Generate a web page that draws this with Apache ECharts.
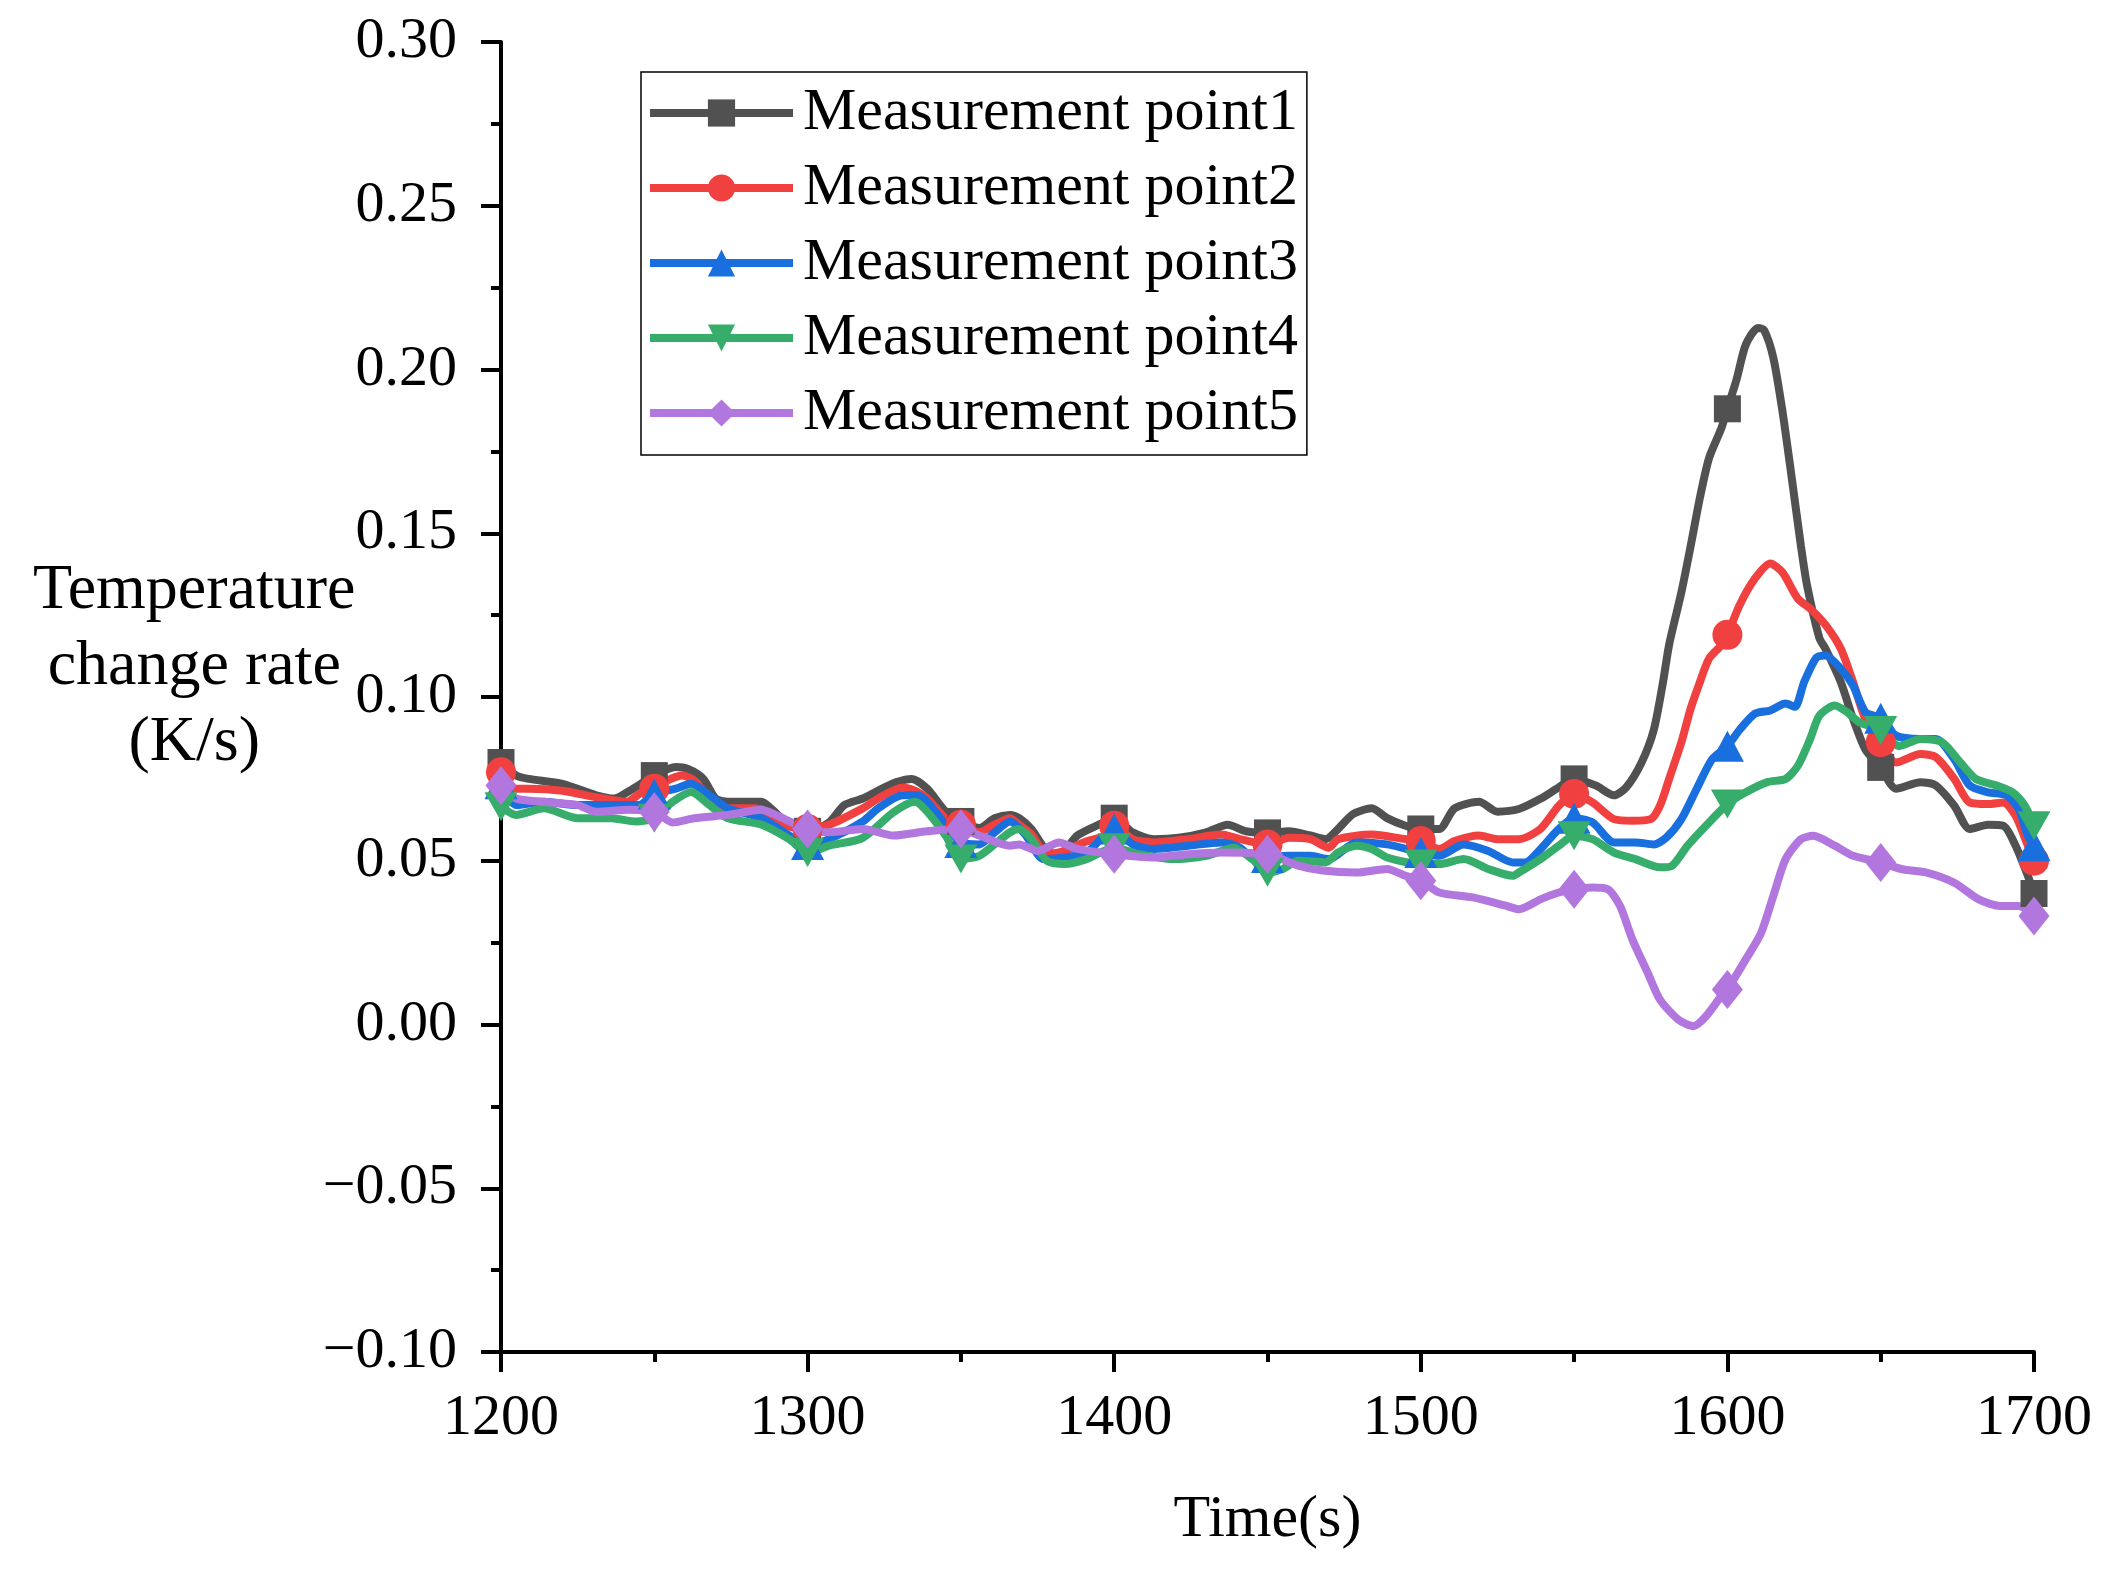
<!DOCTYPE html>
<html lang="en">
<head>
  <meta charset="UTF-8">
  <title>Temperature change rate</title>
  <script src="https://cdn.jsdelivr.net/npm/echarts@6/dist/echarts.min.js"></script>
  <style>
    * { margin: 0; padding: 0; box-sizing: border-box; }
    body { background: #fff; }
    #chart { width: 2117px; height: 1574px; }
  </style>
</head>
<body>
<div id="chart"></div>
<script>
// series names
const names = ['Measurement point1', 'Measurement point2', 'Measurement point3', 'Measurement point4', 'Measurement point5'];
const yTitle = 'Temperature\nchange rate\n(K/s)';

// point 1
const t1 = [1200,1205,1209,1220,1231,1237,1242,1250,1257,1261,1266,1270,1274,1285,1288,1294,1300,1307,1312,1318,1323,1329,1334,1339,1345,1350,1356,1361,1366,1369,1373,1378,1382,1388,1395,1400,1406,1413,1421,1430,1437,1443,1450,1457,1464,1469,1473,1478,1484,1489,1495,1500,1506,1511,1519,1525,1532,1539,1545,1550,1557,1563,1567,1572,1576,1579,1581,1585,1588,1591,1594,1598,1600,1603,1606,1610,1612,1615,1618,1621,1624,1626,1630,1632,1637,1641,1645,1650,1655,1663,1668,1674,1679,1685,1690,1694,1698,1700];
const v1 = [0.080,0.076,0.075,0.0735,0.070,0.069,0.0714,0.076,0.0786,0.078,0.075,0.069,0.068,0.068,0.066,0.061,0.059,0.0617,0.067,0.069,0.0714,0.074,0.075,0.072,0.065,0.062,0.060,0.063,0.064,0.063,0.0597,0.053,0.052,0.0577,0.061,0.063,0.0587,0.0566,0.057,0.0587,0.061,0.059,0.0585,0.059,0.0577,0.0566,0.0597,0.0643,0.066,0.063,0.0607,0.0597,0.0597,0.066,0.068,0.065,0.0658,0.0689,0.0724,0.075,0.073,0.070,0.0724,0.080,0.090,0.1045,0.116,0.132,0.146,0.1607,0.1729,0.182,0.188,0.197,0.2076,0.2127,0.212,0.2035,0.187,0.1668,0.146,0.134,0.118,0.1147,0.1045,0.0933,0.084,0.0785,0.072,0.074,0.073,0.0668,0.0597,0.061,0.0607,0.0546,0.0454,0.040];

// point 2
const t2 = [1200,1205,1209,1220,1231,1241,1246,1250,1252,1259,1263,1269,1274,1283,1292,1300,1307,1318,1323,1331,1335,1339,1345,1350,1356,1361,1366,1369,1373,1378,1384,1390,1397,1400,1406,1413,1424,1435,1441,1450,1457,1464,1470,1473,1484,1495,1500,1506,1511,1519,1525,1532,1539,1545,1550,1556,1563,1569,1575,1578,1581,1585,1588,1591,1594,1598,1600,1604,1609,1614,1618,1623,1627,1632,1637,1641,1645,1650,1655,1663,1668,1674,1679,1685,1690,1694,1698,1700];
const v2 = [0.077,0.072,0.072,0.0714,0.0694,0.068,0.071,0.072,0.0735,0.076,0.0745,0.068,0.066,0.066,0.061,0.0597,0.061,0.066,0.069,0.0724,0.0714,0.069,0.063,0.061,0.0587,0.061,0.063,0.061,0.058,0.052,0.053,0.0556,0.0577,0.0607,0.0566,0.0556,0.0566,0.058,0.0566,0.055,0.057,0.0566,0.054,0.0566,0.058,0.0566,0.056,0.0536,0.056,0.0577,0.0566,0.0566,0.0597,0.0668,0.0704,0.0678,0.0627,0.0622,0.0627,0.0668,0.075,0.0862,0.0964,0.1045,0.1117,0.1158,0.119,0.1281,0.1362,0.1408,0.138,0.130,0.127,0.122,0.1147,0.1045,0.0933,0.0862,0.080,0.0826,0.0816,0.075,0.0678,0.0673,0.0678,0.0637,0.0546,0.050];

// point 3
const t3 = [1200,1205,1214,1225,1236,1245,1250,1257,1262,1268,1274,1285,1294,1300,1307,1318,1323,1331,1336,1339,1345,1350,1356,1361,1366,1371,1377,1384,1391,1400,1406,1413,1424,1435,1441,1447,1450,1457,1464,1470,1479,1489,1500,1506,1514,1522,1530,1534,1539,1545,1550,1556,1563,1570,1576,1580,1585,1590,1595,1600,1604,1609,1614,1619,1622,1625,1629,1632,1637,1641,1645,1650,1655,1663,1668,1674,1679,1685,1691,1695,1698,1700];
const v3 = [0.0735,0.067,0.068,0.067,0.067,0.067,0.0704,0.072,0.0735,0.070,0.066,0.063,0.0577,0.055,0.0566,0.062,0.066,0.070,0.070,0.068,0.061,0.0556,0.055,0.0587,0.062,0.058,0.0505,0.051,0.0525,0.0597,0.055,0.0536,0.0546,0.0556,0.054,0.0495,0.051,0.0515,0.0515,0.0505,0.0556,0.055,0.0525,0.0515,0.055,0.053,0.0495,0.0495,0.0535,0.0597,0.063,0.0617,0.0556,0.0556,0.055,0.057,0.0627,0.072,0.081,0.085,0.090,0.0949,0.0959,0.098,0.097,0.1045,0.112,0.1127,0.1086,0.1035,0.0954,0.0935,0.0882,0.0872,0.0872,0.081,0.073,0.0709,0.070,0.0658,0.0576,0.0546];

// point 4
const t4 = [1200,1205,1214,1225,1236,1244,1250,1256,1262,1268,1274,1285,1294,1300,1307,1318,1328,1335,1339,1345,1350,1356,1361,1366,1369,1373,1378,1384,1391,1400,1408,1419,1430,1439,1445,1450,1455,1460,1469,1473,1479,1484,1489,1500,1506,1514,1522,1530,1532,1539,1545,1550,1556,1563,1570,1578,1582,1587,1593,1600,1606,1613,1619,1623,1627,1630,1635,1639,1643,1650,1656,1663,1670,1676,1681,1688,1693,1697,1700];
const v4 = [0.0665,0.064,0.066,0.063,0.063,0.062,0.063,0.068,0.071,0.067,0.063,0.061,0.0566,0.0525,0.0546,0.057,0.0648,0.068,0.065,0.0577,0.0505,0.0515,0.055,0.0587,0.0597,0.0566,0.050,0.049,0.0505,0.054,0.052,0.0505,0.0515,0.054,0.0505,0.0465,0.0475,0.050,0.0495,0.0525,0.0546,0.0536,0.051,0.049,0.049,0.0505,0.0475,0.0454,0.0464,0.0505,0.0546,0.0576,0.0566,0.0525,0.0505,0.048,0.0485,0.0546,0.0607,0.0673,0.0709,0.074,0.075,0.079,0.0872,0.0943,0.0974,0.0954,0.0923,0.0898,0.085,0.0872,0.0862,0.080,0.075,0.0729,0.0709,0.0668,0.0607];

// point 5
const t5 = [1200,1205,1214,1225,1231,1242,1250,1256,1263,1274,1285,1290,1300,1307,1318,1328,1339,1350,1356,1366,1369,1375,1382,1388,1400,1413,1424,1435,1450,1460,1468,1479,1489,1495,1500,1506,1517,1528,1532,1539,1545,1550,1556,1561,1565,1569,1574,1578,1584,1589,1593,1598,1600,1606,1611,1615,1619,1624,1628,1635,1641,1650,1657,1665,1674,1682,1689,1695,1700];
const v5 = [0.073,0.069,0.068,0.067,0.065,0.0656,0.065,0.0617,0.063,0.064,0.0656,0.0638,0.0597,0.0587,0.0597,0.0577,0.059,0.0597,0.0577,0.0546,0.055,0.053,0.0556,0.0536,0.052,0.051,0.052,0.0525,0.052,0.0485,0.047,0.0464,0.0475,0.0454,0.0439,0.0403,0.0388,0.0362,0.0352,0.0382,0.0403,0.0413,0.0418,0.0413,0.0362,0.026,0.0158,0.0076,0.0015,-0.0005,0.0025,0.0087,0.0107,0.0199,0.028,0.0393,0.0505,0.0566,0.0576,0.0546,0.0515,0.0495,0.0474,0.0464,0.0433,0.0382,0.0362,0.0362,0.0331];

const times = [t1, t2, t3, t4, t5];
const values = [v1, v2, v3, v4, v5];
const colors = ['#515151', '#F14040', '#1A6FDF', '#37AD6B', '#B177DE'];
const symbols = ['rect', 'circle', 'triangle', 'path://M0,0 L2,0 L1,1.8 Z', 'diamond'];
const symbolSizes = [27, 30, [33, 31], [33, 29], [31, 39]];

const FONT = '"Liberation Serif", "Times New Roman", serif';

const series = names.map((name, i) => ({
  name: name,
  type: 'line',
  data: times[i].map((t, j) => [t, values[i][j]]),
  smooth: 0.25,
  symbol: symbols[i],
  symbolSize: (val) => (val[0] % 50 === 0 ? symbolSizes[i] : 0),
  showSymbol: true,
  lineStyle: { width: 8, color: colors[i] },
  itemStyle: { color: colors[i] }
}));

const chart = echarts.init(document.getElementById('chart'), null, { renderer: 'canvas' });
chart.setOption({
  animation: false,
  backgroundColor: '#fff',
  textStyle: { fontFamily: FONT, color: '#000' },
  grid: { left: 501, right: 83, top: 42, bottom: 222 },
  legend: {
    left: 641,
    top: 72,
    orient: 'vertical',
    itemWidth: 143,
    itemHeight: 34,
    itemGap: 15,
    padding: [11, 9, 12, 5],
    borderColor: '#000',
    borderWidth: 1.5,
    lineStyle: { width: 8 },
    textStyle: { fontFamily: FONT, fontSize: 60, color: '#000', lineHeight: 60, padding: [0, 0, 0, 5] },
    data: names
  },
  // y axis title, three centred lines left of the tick labels
  graphic: [{
    type: 'text',
    left: 33,
    top: 553,
    style: {
      text: yTitle,
      font: '64px ' + FONT,
      fill: '#000',
      textAlign: 'center',
      lineHeight: 76
    }
  }],
  xAxis: {
    type: 'value',
    min: 1200,
    max: 1700,
    interval: 100,
    name: 'Time(s)',
    nameLocation: 'middle',
    nameGap: 138,
    nameMoveOverlap: false,
    nameTextStyle: { fontFamily: FONT, fontSize: 60, color: '#000' },
    axisLine: { onZero: false, lineStyle: { color: '#000', width: 4 } },
    axisTick: { show: true, inside: false, length: 20, lineStyle: { color: '#000', width: 4 } },
    minorTick: { show: true, splitNumber: 2, length: 10, lineStyle: { color: '#000', width: 4 } },
    splitLine: { show: false },
    axisLabel: { fontFamily: FONT, fontSize: 58, color: '#000', margin: 38, formatter: (v) => String(v) }
  },
  yAxis: {
    type: 'value',
    min: -0.1,
    max: 0.3,
    interval: 0.05,
    axisLine: { show: true, onZero: false, lineStyle: { color: '#000', width: 4 } },
    axisTick: { show: true, inside: false, length: 20, lineStyle: { color: '#000', width: 4 } },
    minorTick: { show: true, splitNumber: 2, length: 10, lineStyle: { color: '#000', width: 4 } },
    splitLine: { show: false },
    axisLabel: {
      fontFamily: FONT, fontSize: 58, color: '#000', margin: 44,
      formatter: (v) => (v < 0 ? '\u2212' : '') + Math.abs(v).toFixed(2)
    }
  },
  series: series
});
</script>
</body>
</html>
